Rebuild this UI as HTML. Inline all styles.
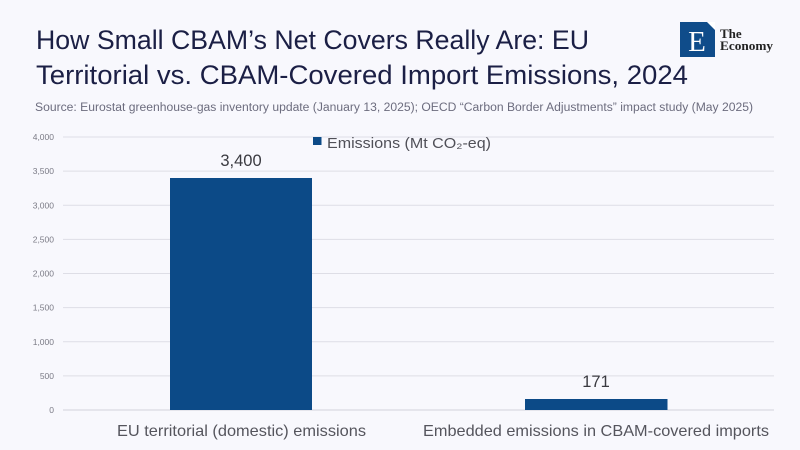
<!DOCTYPE html>
<html>
<head>
<meta charset="utf-8">
<style>
  html, body { margin:0; padding:0; background:#f8f8fd; }
  svg { display:block; }
</style>
</head>
<body>
<svg width="800" height="450" viewBox="0 0 800 450" xmlns="http://www.w3.org/2000/svg">
  <rect x="0" y="0" width="800" height="450" fill="#f8f8fd"/>

  <!-- Title -->
  <text x="36" y="49" font-family="Liberation Sans, sans-serif" font-size="26.5" fill="#1b1f45" textLength="553" lengthAdjust="spacingAndGlyphs">How Small CBAM’s Net Covers Really Are: EU</text>
  <text x="36" y="84" font-family="Liberation Sans, sans-serif" font-size="26.5" fill="#1b1f45" textLength="652" lengthAdjust="spacingAndGlyphs">Territorial vs. CBAM-Covered Import Emissions, 2024</text>
  <text x="35" y="111" font-family="Liberation Sans, sans-serif" font-size="11.5" fill="#6c6c7e" textLength="718" lengthAdjust="spacingAndGlyphs">Source:  Eurostat greenhouse-gas inventory update (January 13, 2025); OECD “Carbon Border Adjustments” impact study (May 2025)</text>

  <!-- Logo -->
  <rect x="680" y="22" width="35" height="35" fill="#0f4c8a"/>
  <polygon points="707,22 715,22 715,30" fill="#ffffff"/>
  <text x="697" y="51" text-anchor="middle" font-family="Liberation Serif, serif" font-size="29" fill="#ffffff">E</text>
  <text x="720" y="38" font-family="Liberation Serif, serif" font-size="13" font-weight="bold" fill="#222222">The</text>
  <text x="720" y="50" font-family="Liberation Serif, serif" font-size="13" font-weight="bold" fill="#222222" textLength="53" lengthAdjust="spacingAndGlyphs">Economy</text>

  <!-- Gridlines -->
  <g stroke="#dedee6" stroke-width="1">
    <line x1="63" y1="137" x2="774" y2="137"/>
    <line x1="63" y1="171.1" x2="774" y2="171.1"/>
    <line x1="63" y1="205.3" x2="774" y2="205.3"/>
    <line x1="63" y1="239.4" x2="774" y2="239.4"/>
    <line x1="63" y1="273.5" x2="774" y2="273.5"/>
    <line x1="63" y1="307.6" x2="774" y2="307.6"/>
    <line x1="63" y1="341.8" x2="774" y2="341.8"/>
    <line x1="63" y1="375.9" x2="774" y2="375.9"/>
    <line x1="63" y1="410" x2="774" y2="410" stroke="#d2d2da"/>
  </g>

  <!-- Y tick labels -->
  <g font-family="Liberation Sans, sans-serif" font-size="8.5" fill="#7a7a85" text-anchor="end">
    <text x="54" y="140">4,000</text>
    <text x="54" y="174.1">3,500</text>
    <text x="54" y="208.3">3,000</text>
    <text x="54" y="242.4">2,500</text>
    <text x="54" y="276.5">2,000</text>
    <text x="54" y="310.6">1,500</text>
    <text x="54" y="344.8">1,000</text>
    <text x="54" y="378.9">500</text>
    <text x="54" y="413">0</text>
  </g>

  <!-- Bars -->
  <rect x="170" y="178" width="142" height="232" fill="#0c4a87"/>
  <rect x="525" y="399" width="142.5" height="11" fill="#0c4a87"/>

  <!-- Value labels -->
  <text x="241" y="166" text-anchor="middle" font-family="Liberation Sans, sans-serif" font-size="16.5" fill="#3a3a40">3,400</text>
  <text x="596" y="387" text-anchor="middle" font-family="Liberation Sans, sans-serif" font-size="16.5" fill="#3a3a40">171</text>

  <!-- Legend -->
  <rect x="313" y="137" width="8.5" height="8" fill="#0c4a87"/>
  <text x="327" y="148" font-family="Liberation Sans, sans-serif" font-size="14.5" fill="#505058" textLength="164" lengthAdjust="spacingAndGlyphs">Emissions (Mt CO₂-eq)</text>

  <!-- Category labels -->
  <text x="117" y="436" font-family="Liberation Sans, sans-serif" font-size="16" fill="#55555d" textLength="249" lengthAdjust="spacingAndGlyphs">EU territorial (domestic) emissions</text>
  <text x="423" y="436" font-family="Liberation Sans, sans-serif" font-size="16" fill="#55555d" textLength="346" lengthAdjust="spacingAndGlyphs">Embedded emissions in CBAM-covered imports</text>
</svg>
</body>
</html>
